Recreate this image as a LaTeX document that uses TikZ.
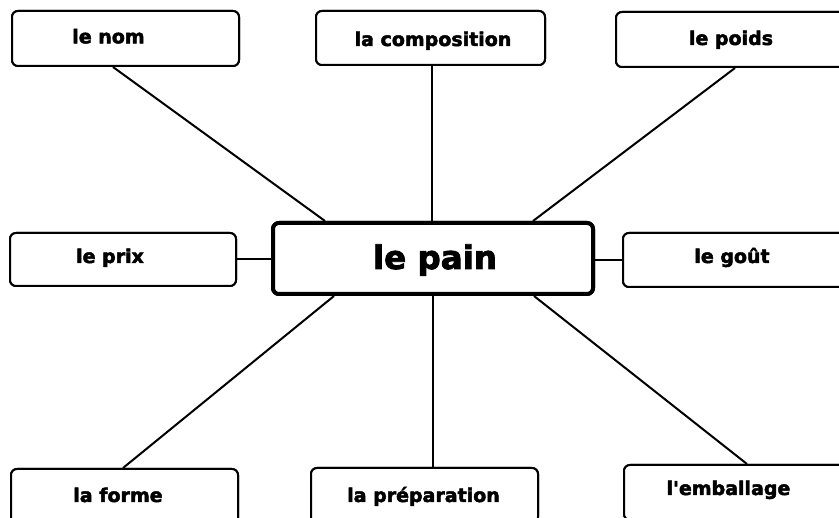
\documentclass[tikz,border=0pt]{standalone}
\usepackage{fontspec}
\setmainfont{DejaVu Sans}[Ligatures=TeXOff,BoldFeatures={FakeBold=2.5}]
\begin{document}
\begin{tikzpicture}[x=1pt,y=-1pt,
  box/.style={draw=black,line width=2pt,rounded corners=6pt,fill=white,inner sep=0pt},
  mainbox/.style={draw=black,line width=4pt,rounded corners=6pt,fill=white,inner sep=0pt,minimum width=320pt,minimum height=71pt},
  lbl/.style={anchor=base,inner sep=0pt,font=\bfseries\fontsize{19}{22}\selectfont},
  mainlbl/.style={anchor=base,inner sep=0pt,font=\bfseries\fontsize{32.5}{38}\selectfont},
  conn/.style={draw=black,line width=2pt}]
\useasboundingbox (0,0) rectangle (839,518);
\clip (0,0) rectangle (839,518);
\fill[white] (0,0) rectangle (839,518);
% boxes
\node[box,minimum width=227pt,minimum height=55pt] (nom) at (125.5,38.5) {};
\node[box,minimum width=229pt,minimum height=54pt] (comp) at (430.5,38) {};
\node[box,minimum width=230pt,minimum height=55pt] (poids) at (731,39.5) {};
\node[box,minimum width=226pt,minimum height=53pt] (prix) at (123,259.5) {};
\node[box,minimum width=223pt,minimum height=54pt] (gout) at (734.5,260) {};
\node[box,minimum width=227pt,minimum height=55pt] (forme) at (124.5,496.5) {};
\node[box,minimum width=227pt,minimum height=55pt] (prep) at (424.5,495.5) {};
\node[box,minimum width=222pt,minimum height=55pt] (emb) at (735,492.5) {};
\node[mainbox] (pain) at (433,258.5) {};
% connectors
\draw[conn] ([xshift=-12.5pt]nom.south) -- ([xshift=-108pt]pain.north);
\draw[conn] ([xshift=1.5pt]comp.south) -- ([xshift=-1pt]pain.north);
\draw[conn] ([xshift=4pt]poids.south) -- ([xshift=100pt]pain.north);
\draw[conn] (prix.east) -- (prix.east -| pain.west);
\draw[conn] (gout.west) -- (gout.west -| pain.east);
\draw[conn] ([xshift=-1.5pt]forme.north) -- ([xshift=-99pt]pain.south);
\draw[conn] ([xshift=8.5pt]prep.north) -- (pain.south);
\draw[conn] ([xshift=12pt]emb.north) -- ([xshift=101pt]pain.south);
% redraw boxes on top of connectors
\node[box,minimum width=227pt,minimum height=55pt] at (nom) {};
\node[box,minimum width=229pt,minimum height=54pt] at (comp) {};
\node[box,minimum width=230pt,minimum height=55pt] at (poids) {};
\node[box,minimum width=226pt,minimum height=53pt] at (prix) {};
\node[box,minimum width=223pt,minimum height=54pt] at (gout) {};
\node[box,minimum width=227pt,minimum height=55pt] at (forme) {};
\node[box,minimum width=227pt,minimum height=55pt] at (prep) {};
\node[box,minimum width=222pt,minimum height=55pt] at (emb) {};
\node[mainbox] at (pain) {};
% labels
\node[lbl] (tnom) at (108.5,43.3) {le nom};
\node[lbl] (tcomp) at (433,46) {la composition};
\node[lbl] (tpoids) at (731,45) {le poids};
\node[lbl] (tprix) at (110,263) {le prix};
\node[lbl] (tgout) at (732,263) {le goût};
\node[lbl] (tforme) at (118,502) {la forme};
\node[lbl] (tprep) at (423.5,502) {la préparation};
\node[lbl] (temb) at (728.5,495) {l'emballage};
\node[mainlbl] (tpain) at (435,269) {le pain};
\end{tikzpicture}
\end{document}
